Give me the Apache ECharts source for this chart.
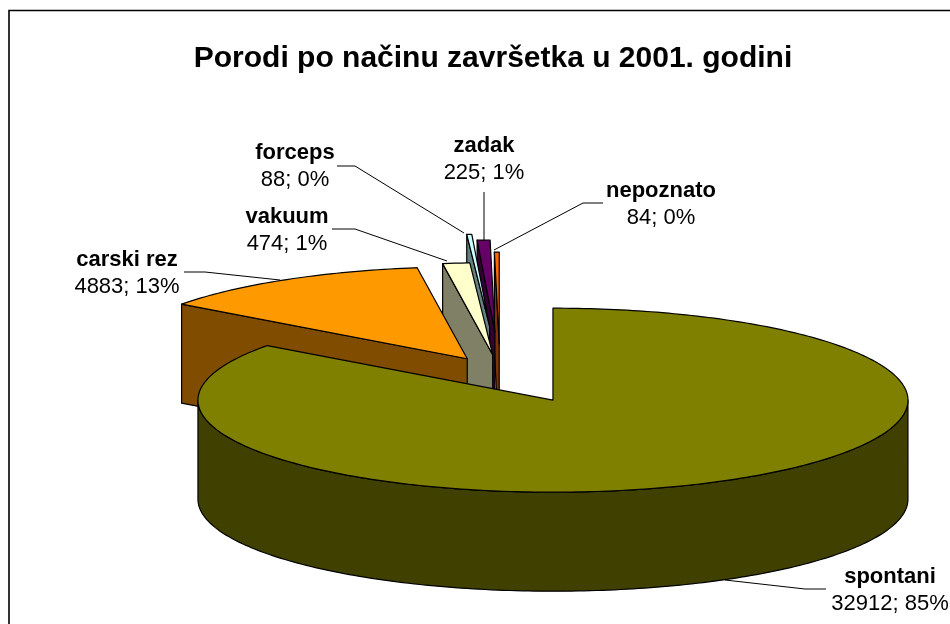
<!DOCTYPE html>
<html><head><meta charset="utf-8">
<style>html,body{margin:0;padding:0;background:#fff}#c{width:950px;height:624px}</style>
<script src="https://cdn.jsdelivr.net/npm/echarts@6/dist/echarts.min.js"></script>
</head><body><div id="c"></div>
<script>
var categories = ['spontani', 'carski rez', 'vakuum', 'forceps', 'zadak', 'nepoznato'];
var values = [32912, 4883, 474, 88, 225, 84];
var explode = [0.331, 0.18, 0.2, 0.51, 0.446, 0.315];
var topColors = ['#808000', '#FF9900', '#FFFFCC', '#CCFFFF', '#660066', '#FF6600'];
var sideColors = ['#404000', '#804C00', '#808066', '#668080', '#330033', '#803300'];
var labelCenters = [[890, 577], [127, 260], [287, 217], [295, 153], [484, 146], [661, 191]];
var leaders = [
  [[725, 580], [805, 589], [826, 589]],
  [[184, 272], [205, 272], [280, 280]],
  [[332, 229], [355, 229], [447, 261]],
  [[337, 166], [355, 166], [464, 233]],
  [[484, 192], [484, 240]],
  [[603, 203], [583, 203], [494, 250]]
];
var pie = {cx: 500, cy: 373, a: 355, b: 92, depth: 99};
var total = values.reduce(function (s, v) { return s + v; }, 0);

function rad(d) { return d * Math.PI / 180; }
function pt(o, deg, dy) {
  return [o[0] + pie.a * Math.sin(rad(deg)), o[1] - pie.b * Math.cos(rad(deg)) + (dy || 0)];
}
function poly(points, fill) {
  return {type: 'polygon', shape: {points: points},
    style: {fill: fill, stroke: '#000', lineWidth: 1.2, lineJoin: 'round'}, silent: true};
}
function arcPts(o, from, to, dy) {
  var pts = [], d = from;
  for (; d < to; d += 1) pts.push(pt(o, d, dy));
  pts.push(pt(o, to, dy));
  return pts;
}
function sliceShapes(i, start, end) {
  var mid = (start + end) / 2, e = explode[i];
  var o = [pie.cx + pie.a * e * Math.sin(rad(mid)), pie.cy - pie.b * e * Math.cos(rad(mid))];
  var out = [];
  var under = [o[0], o[1] + pie.depth];
  if (Math.sin(rad(start)) < -1e-6) out.push(poly([o, pt(o, start), pt(o, start, pie.depth), under], sideColors[i]));
  if (Math.sin(rad(end)) > 1e-6) out.push(poly([o, pt(o, end), pt(o, end, pie.depth), under], sideColors[i]));
  var f = Math.max(start, 90), t = Math.min(end, 270);
  if (f < t) {
    out.push(poly(arcPts(o, f, t, 0).concat(arcPts(o, f, t, pie.depth).reverse()), sideColors[i]));
  }
  out.push(poly([o].concat(arcPts(o, start, end, 0)), topColors[i]));
  return out;
}
function renderAll() {
  var angles = [], acc = 0;
  values.forEach(function (v) { var s = acc; acc += v / total * 360; angles.push([s, acc]); });
  var children = [];
  for (var i = values.length - 1; i >= 0; i--) {
    children = children.concat(sliceShapes(i, angles[i][0], angles[i][1]));
  }
  leaders.forEach(function (l) {
    children.push({type: 'polyline', shape: {points: l}, style: {stroke: '#000', lineWidth: 1, fill: null}, silent: true});
  });
  categories.forEach(function (c, i) {
    var p = labelCenters[i];
    children.push({type: 'text', silent: true, style: {x: p[0], y: p[1], text: c, align: 'center', verticalAlign: 'middle',
      font: 'bold 22px "Liberation Sans", Arial, sans-serif', fill: '#000'}});
    children.push({type: 'text', silent: true, style: {x: p[0], y: p[1] + 27, text: values[i] + '; ' + Math.round(values[i] / total * 100) + '%',
      align: 'center', verticalAlign: 'middle', font: '22px "Liberation Sans", Arial, sans-serif', fill: '#000'}});
  });
  return {type: 'group', children: children};
}
var chart = echarts.init(document.getElementById('c'), null, {renderer: 'canvas'});
chart.setOption({
  animation: false,
  backgroundColor: '#fff',
  title: {text: 'Porodi po načinu završetka u 2001. godini', left: 488, top: 39, textAlign: 'center',
    textStyle: {fontFamily: '"Liberation Sans", Arial, sans-serif', fontWeight: 'bold', fontSize: 30, color: '#000'}},
  graphic: [{type: 'rect', silent: true, z: -1, shape: {x: 9, y: 10.5, width: 960, height: 640},
    style: {fill: '#fff', stroke: '#000', lineWidth: 1.6}}],
  series: [{type: 'custom', coordinateSystem: 'none', silent: true, data: [0], renderItem: renderAll}]
});
</script></body></html>
